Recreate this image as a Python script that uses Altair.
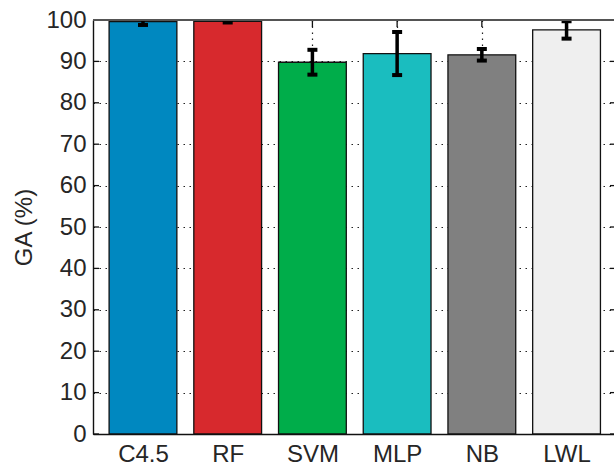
import json
import altair as alt
import pandas as pd

models = ["C4.5", "RF", "SVM", "MLP", "NB", "LWL"]
ga_mean = [99.6, 99.7, 89.8, 91.9, 91.6, 97.6]
ga_err = [0.8, 0.3, 3.0, 5.2, 1.4, 2.1]
bar_colors = ["#0088c0", "#d7292d", "#00ad4a", "#1abdbf", "#808080", "#efefef"]
y_ticks = [0, 10, 20, 30, 40, 50, 60, 70, 80, 90, 100]

df = pd.DataFrame({"model": models, "idx": list(range(1, len(models) + 1)),
                   "ga": ga_mean, "err": ga_err})
tick_df = pd.DataFrame({"v": y_ticks})

W, H = 521, 414
FONT = "Liberation Sans"
TXT = "#262626"

x_scale = alt.Scale(domain=[0.41, 6.56], nice=False, zero=False)
y_scale = alt.Scale(domain=[0, 100], nice=False)

label_expr = json.dumps([""] + models) + "[datum.value]"
x_axis = alt.Axis(values=list(range(1, len(models) + 1)), labelExpr=label_expr, title=None,
                  grid=True, gridDash=[1.5, 4.5], gridColor="#222", gridWidth=1.2,
                  ticks=False, tickSize=0, domainColor="#111", domainWidth=1.4,
                  labelFontSize=24, labelPadding=8, labelColor=TXT, labelFont=FONT)
y_axis = alt.Axis(values=y_ticks, title="GA (%)", grid=True, gridDash=[1.5, 4.5],
                  gridColor="#222", gridWidth=1.2, ticks=False, tickSize=0,
                  domainColor="#111", domainWidth=1.4, labelFontSize=24, labelPadding=7,
                  labelColor=TXT, labelFont=FONT, titleFont=FONT, titleFontSize=24,
                  titleFontWeight="normal", titleColor=TXT, titlePadding=9)

base = alt.Chart(df)

yticks_left = alt.Chart(tick_df).mark_rule(color="#111", strokeWidth=1.3).encode(
    y=alt.Y("v:Q", scale=y_scale, axis=y_axis), x=alt.value(0), x2=alt.value(6))
yticks_right = alt.Chart(tick_df).mark_rule(color="#111", strokeWidth=1.3, clip=True).encode(
    y=alt.Y("v:Q", scale=y_scale, axis=y_axis), x=alt.value(517), x2=alt.value(523))
xticks_top = base.mark_rule(color="#111", strokeWidth=1.3).encode(
    x=alt.X("idx:Q", scale=x_scale, axis=x_axis), y=alt.value(0), y2=alt.value(7))

bars = base.transform_calculate(
    x0="datum.idx - 0.4", x1="datum.idx + 0.4"
).mark_bar(stroke="#111", strokeWidth=1.3, opacity=1).encode(
    x=alt.X("x0:Q", scale=x_scale, axis=x_axis),
    x2="x1:Q",
    y=alt.Y("ga:Q", scale=y_scale, axis=y_axis),
    y2=alt.datum(0),
    color=alt.Color("model:N", scale=alt.Scale(domain=models, range=bar_colors), legend=None),
)

err_base = base.transform_calculate(lo="datum.ga - datum.err", hi="datum.ga + datum.err")
err_rule = err_base.mark_rule(color="black", strokeWidth=3.5, clip=True).encode(
    x=alt.X("idx:Q", scale=x_scale, axis=x_axis),
    y=alt.Y("lo:Q", scale=y_scale, axis=y_axis), y2="hi:Q")
cap_lo = err_base.mark_tick(color="black", orient="horizontal", size=10, thickness=4,
                            opacity=1, clip=True).encode(
    x=alt.X("idx:Q", scale=x_scale, axis=x_axis), y=alt.Y("lo:Q", scale=y_scale, axis=y_axis))
cap_hi = err_base.mark_tick(color="black", orient="horizontal", size=10, thickness=4,
                            opacity=1, clip=True).encode(
    x=alt.X("idx:Q", scale=x_scale, axis=x_axis), y=alt.Y("hi:Q", scale=y_scale, axis=y_axis))

top_border = base.mark_rule(color="#555", strokeWidth=1.4).encode(
    y=alt.value(0), x=alt.value(0), x2=alt.value(W))

chart = alt.layer(
    yticks_left, yticks_right, xticks_top, bars, err_rule, cap_lo, cap_hi, top_border
).properties(
    width=W, height=H,
    autosize=alt.AutoSizeParams(type="none"),
    padding={"left": 93, "top": 20, "right": 0, "bottom": 32},
    background="white",
).configure_view(stroke=None)

chart.save("out.html", embed_options={"renderer": "svg", "actions": False})
